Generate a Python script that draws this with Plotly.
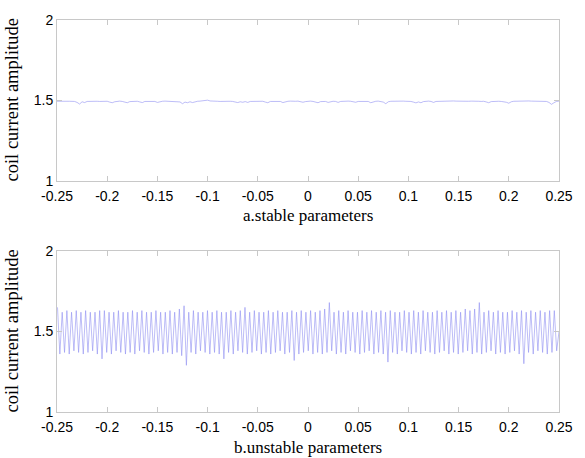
import numpy as np
import plotly.graph_objects as go
from plotly.subplots import make_subplots

# ---- data ----
x_ticks = [-0.25, -0.2, -0.15, -0.1, -0.05, 0, 0.05, 0.1, 0.15, 0.2, 0.25]
x_tick_text = ["-0.25", "-0.2", "-0.15", "-0.1", "-0.05", "0", "0.05", "0.1", "0.15", "0.2", "0.25"]
y_ticks = [1, 1.5, 2]
y_tick_text = ["1", "1.5", "2"]
y_title = "coil current amplitude"
panel_titles = ["a.stable parameters", "b.unstable parameters"]

# a. stable parameters: amplitude sampled every 0.0025 s from -0.25 to 0.25
stable_amp = [
    1.495, 1.496, 1.495, 1.494, 1.495, 1.495, 1.496, 1.494, 1.488, 1.478,
    1.492, 1.487, 1.494, 1.495, 1.496, 1.495, 1.495, 1.494, 1.495, 1.496,
    1.495, 1.490, 1.486, 1.492, 1.495, 1.496, 1.494, 1.490, 1.486, 1.493,
    1.495, 1.496, 1.495, 1.491, 1.487, 1.494, 1.495, 1.496, 1.495, 1.494,
    1.488, 1.493, 1.495, 1.496, 1.495, 1.497, 1.495, 1.494, 1.495, 1.491,
    1.480, 1.490, 1.486, 1.492, 1.487, 1.493, 1.495, 1.496, 1.497, 1.499,
    1.502, 1.497, 1.495, 1.496, 1.495, 1.494, 1.495, 1.496, 1.495, 1.495,
    1.494, 1.490, 1.487, 1.492, 1.489, 1.493, 1.488, 1.494, 1.495, 1.496,
    1.495, 1.494, 1.495, 1.490, 1.486, 1.494, 1.495, 1.496, 1.495, 1.494,
    1.487, 1.493, 1.495, 1.496, 1.494, 1.495, 1.496, 1.494, 1.489, 1.493,
    1.495, 1.496, 1.494, 1.491, 1.486, 1.493, 1.495, 1.494, 1.488, 1.493,
    1.495, 1.494, 1.488, 1.494, 1.496, 1.497, 1.496, 1.495, 1.494, 1.489,
    1.494, 1.495, 1.496, 1.495, 1.494, 1.486, 1.493, 1.495, 1.496, 1.494,
    1.490, 1.480, 1.492, 1.495, 1.496, 1.495, 1.494, 1.495, 1.496, 1.495,
    1.495, 1.494, 1.490, 1.485, 1.491, 1.486, 1.493, 1.495, 1.496, 1.494,
    1.488, 1.494, 1.495, 1.496, 1.497, 1.496, 1.495, 1.496, 1.497, 1.496,
    1.495, 1.496, 1.495, 1.494, 1.495, 1.496, 1.497, 1.496, 1.495, 1.494,
    1.495, 1.491, 1.486, 1.493, 1.495, 1.496, 1.495, 1.494, 1.493, 1.489,
    1.483, 1.492, 1.495, 1.496, 1.497, 1.496, 1.495, 1.496, 1.497, 1.496,
    1.495, 1.496, 1.497, 1.496, 1.495, 1.494, 1.488, 1.476, 1.486, 1.494,
    1.496,
]

# b. unstable parameters: successive peaks and troughs of the oscillation
unstable_peaks = [
    1.65, 1.62, 1.63, 1.62, 1.63, 1.62, 1.63, 1.62, 1.62, 1.63,
    1.63, 1.62, 1.62, 1.63, 1.62, 1.62, 1.63, 1.62, 1.63, 1.62,
    1.62, 1.63, 1.62, 1.62, 1.63, 1.62, 1.64, 1.66, 1.62, 1.63,
    1.62, 1.62, 1.63, 1.62, 1.63, 1.62, 1.62, 1.63, 1.62, 1.63,
    1.65, 1.62, 1.63, 1.62, 1.62, 1.63, 1.62, 1.63, 1.62, 1.62,
    1.63, 1.62, 1.63, 1.62, 1.63, 1.62, 1.63, 1.64, 1.68, 1.62,
    1.63, 1.62, 1.63, 1.62, 1.62, 1.63, 1.62, 1.63, 1.62, 1.63,
    1.62, 1.63, 1.62, 1.62, 1.63, 1.62, 1.63, 1.62, 1.63, 1.62,
    1.62, 1.63, 1.62, 1.63, 1.62, 1.63, 1.62, 1.64, 1.63, 1.64,
    1.68, 1.62, 1.63, 1.62, 1.63, 1.62, 1.62, 1.63, 1.62, 1.63,
    1.62, 1.63, 1.62, 1.63, 1.62, 1.63, 1.63,
]
unstable_troughs = [
    1.36, 1.37, 1.36, 1.38, 1.37, 1.36, 1.37, 1.38, 1.36, 1.33,
    1.37, 1.36, 1.38, 1.37, 1.36, 1.37, 1.36, 1.38, 1.37, 1.36,
    1.37, 1.38, 1.36, 1.37, 1.36, 1.37, 1.35, 1.29, 1.37, 1.36,
    1.38, 1.37, 1.36, 1.37, 1.36, 1.33, 1.37, 1.36, 1.38, 1.37,
    1.36, 1.37, 1.38, 1.36, 1.37, 1.36, 1.37, 1.38, 1.36, 1.37,
    1.32, 1.36, 1.37, 1.38, 1.36, 1.37, 1.36, 1.37, 1.38, 1.36,
    1.37, 1.36, 1.38, 1.37, 1.36, 1.37, 1.38, 1.36, 1.37, 1.36,
    1.31, 1.37, 1.36, 1.38, 1.37, 1.36, 1.37, 1.36, 1.38, 1.37,
    1.36, 1.37, 1.38, 1.36, 1.37, 1.36, 1.37, 1.38, 1.36, 1.37,
    1.36, 1.37, 1.38, 1.36, 1.37, 1.36, 1.37, 1.38, 1.36, 1.30,
    1.37, 1.36, 1.38, 1.37, 1.36, 1.37, 1.38,
]
unstable_end = 1.50

# ---- build series ----
stable_t = np.linspace(-0.25, 0.25, len(stable_amp))
unstable_amp = []
for p, t in zip(unstable_peaks, unstable_troughs):
    unstable_amp += [p, t]
unstable_amp.append(unstable_end)
unstable_t = np.linspace(-0.2495, 0.25, len(unstable_amp))

LINE = "#9090f2"
FRAME = "#c8c8c8"
SERIF = "Liberation Serif, Times New Roman, serif"
SANS = "Liberation Sans, Arial, sans-serif"

fig = make_subplots(rows=2, cols=1, vertical_spacing=0.1)
fig.add_trace(go.Scatter(x=stable_t, y=stable_amp, mode="lines",
                         line=dict(color=LINE, width=0.6),
                         showlegend=False), row=1, col=1)
fig.add_trace(go.Scatter(x=unstable_t, y=unstable_amp, mode="lines",
                         line=dict(color=LINE, width=0.6),
                         showlegend=False), row=2, col=1)

xcommon = dict(range=[-0.25, 0.25], tickvals=x_ticks, ticktext=x_tick_text,
               ticks="inside", ticklen=5, tickcolor=FRAME, showline=True,
               linecolor=FRAME, linewidth=1, mirror="ticks", showgrid=False,
               zeroline=False, ticklabelstandoff=2,
               tickfont=dict(family=SANS, size=14, color="#000"))
ycommon = dict(range=[1, 2], tickvals=y_ticks, ticktext=y_tick_text,
               ticks="inside", ticklen=5, tickcolor=FRAME, showline=True,
               linecolor=FRAME, linewidth=1, mirror="ticks", showgrid=False,
               zeroline=False,
               tickfont=dict(family=SANS, size=14, color="#000"))

fig.update_xaxes(**xcommon)
fig.update_yaxes(**ycommon)

domains = [[0.5894, 1.0], [0.0, 0.4106]]
annotations = []
for i, (dom, title) in enumerate(zip(domains, panel_titles)):
    annotations.append(dict(text=title, xref="paper", yref="paper",
                            x=0.5, y=dom[0], xanchor="center", yanchor="middle",
                            yshift=-35, showarrow=False,
                            font=dict(family=SERIF, size=17, color="#000")))
    annotations.append(dict(text=y_title, xref="paper", yref="paper",
                            x=0, y=(dom[0] + dom[1]) / 2, xanchor="center",
                            yanchor="middle", xshift=-45, textangle=-90,
                            showarrow=False,
                            font=dict(family=SERIF, size=18.5, color="#000")))

fig.update_layout(
    width=585, height=458,
    margin=dict(l=57, r=18, t=15, b=46),
    plot_bgcolor="white", paper_bgcolor="white",
    yaxis=dict(domain=domains[0]),
    yaxis2=dict(domain=domains[1]),
    annotations=annotations,
)
fig.write_html("out.html")
